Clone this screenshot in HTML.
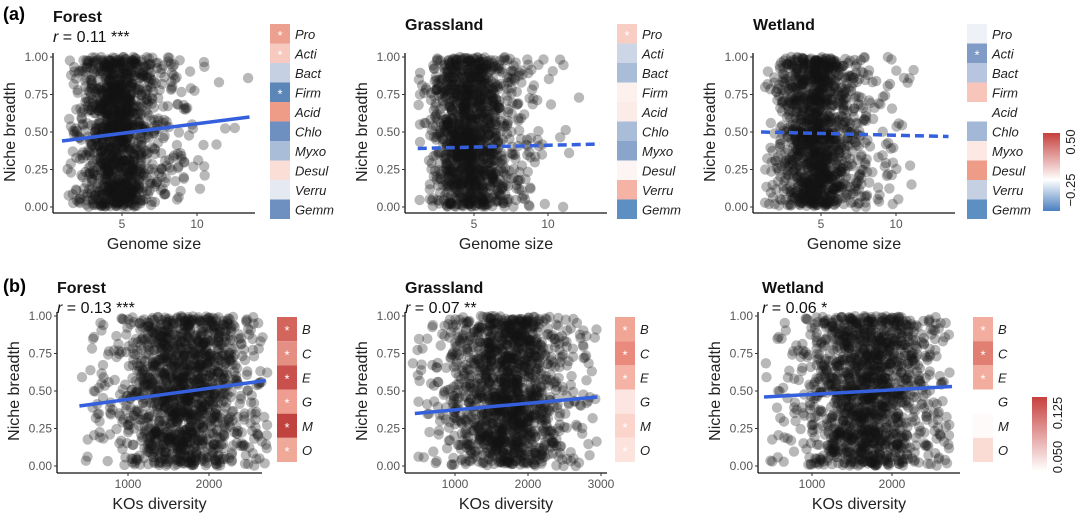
<!DOCTYPE html>
<html><head><meta charset="utf-8"><style>
body{margin:0;background:#fff;width:1080px;height:524px;overflow:hidden}
svg text{font-family:"Liberation Sans",sans-serif}
</style></head><body>
<svg id="fig" width="1080" height="524" xmlns="http://www.w3.org/2000/svg">
<defs>
<linearGradient id="gA" x1="0" y1="1" x2="0" y2="0"><stop offset="0" stop-color="#4a7fbf"/><stop offset="0.4" stop-color="#ffffff"/><stop offset="1" stop-color="#c6403d"/></linearGradient>
<linearGradient id="gB" x1="0" y1="1" x2="0" y2="0"><stop offset="0" stop-color="#ffffff"/><stop offset="1" stop-color="#c6403d"/></linearGradient>
</defs>
<g id="root"></g>
</svg>
<script>
// ---- data ----
const rowsA = ["Pro","Acti","Bact","Firm","Acid","Chlo","Myxo","Desul","Verru","Gemm"];
const rowsB = ["B","C","E","G","M","O"];
const heatForestA = ["#eea090","#f7c9bf","#c5d1e3","#5d86b8","#ee9b88","#6d90c0","#a9bcd8","#fbdfd7","#e5eaf2","#6d90c0"];
const heatGrassA  = ["#f8cdc3","#ccd6e7","#a9bcd8","#fdf1ee","#fbece8","#a9bcd8","#8aa5cc","#fdf5f3","#f4b3a5","#5d8fc3"];
const heatWetA    = ["#eef2f7","#7f9bc6","#b7c6de","#f7c5b9","#ffffff","#a3b8d6","#fde9e4","#ee9b88","#c5d1e3","#5d8fc3"];
const starsForestA = [1,1,0,1,0,0,0,0,0,0];
const starsGrassA  = [1,0,0,0,0,0,0,0,0,0];
const starsWetA    = [0,1,0,0,0,0,0,0,0,0];
const heatForestB = ["#d4655c","#e58f84","#c9504c","#ee9d90","#c0433f","#f0a898"];
const heatGrassB  = ["#f1a595","#e98a7c","#f4b3a5","#fde6e1","#fbd5cc","#fde3dd"];
const heatWetB    = ["#f3ad9f","#e17f73","#f3ad9f","#ffffff","#fefafa","#fbdcd5"];
const starsForestB = [1,1,1,1,1,1];
const starsGrassB  = [1,1,1,0,1,1];
const starsWetB    = [1,1,1,0,0,0];
const yTicks = [0,0.25,0.5,0.75,1];
const yTickLabels = ["0.00","0.25","0.50","0.75","1.00"];
const genomeTicks = [5,10];
const koTicksFG = [1000,2000];
const koTicksG = [1000,2000,3000];
// regression endpoints [x0,y0,x1,y1]
const fitForestA = [1,0.44,13.5,0.60];
const fitGrassA = [1.2,0.39,13.5,0.42];
const fitWetA = [1,0.50,13.5,0.47];
const fitForestB = [400,0.40,2700,0.57];
const fitGrassB = [450,0.35,2950,0.46];
const fitWetB = [400,0.46,2750,0.53];

const NS="http://www.w3.org/2000/svg";
const root=document.getElementById('root');
function el(tag,attrs,parent,text){const e=document.createElementNS(NS,tag);for(const k in attrs)e.setAttribute(k,attrs[k]);if(text!==undefined)e.textContent=text;(parent||root).appendChild(e);return e;}
let seed=12345;function rnd(){seed=(seed*1103515245+12345)%2147483648;return seed/2147483648;}
function gauss(){return Math.sqrt(-2*Math.log(rnd()+1e-9))*Math.cos(2*Math.PI*rnd());}

function panel(o){
  const g=el('g',{});
  
  
  const X=v=>o.ax0px+(v-o.t0)*(o.t1px-o.ax0px)/(o.t1-o.t0);
  const Y=v=>o.y0-(o.y0-o.y1)*v;
  const pg=el('g',{},g);
  
  
  for(let i=0;i<o.n;i++){
    let xv;
    do{ xv = rnd()<o.tail ? o.mu+o.sd*2.3*Math.abs(gauss())*(rnd()<o.skew?1:-1) : o.mu+o.sd*gauss(); }
    while(xv<o.xmin||xv>o.xmax);
    const yv=rnd();
    el('circle',{cx:X(xv).toFixed(1),cy:Y(yv).toFixed(1),r:5.2,fill:'rgba(20,20,20,0.3)'},pg);
  }
  const ya=el('line',{x1:o.ax,y1:Y(1)-4,x2:o.ax,y2:o.xaxY,stroke:'#111','stroke-width':1.3},g);
  
  const xa=el('line',{x1:o.ax,y1:o.xaxY,x2:o.axEnd,y2:o.xaxY,stroke:'#111','stroke-width':1.3},g);
  
  yTicks.forEach((t,i)=>{
    el('line',{x1:o.ax-3,y1:Y(t),x2:o.ax,y2:Y(t),stroke:'#333'},g);
    const tl=el('text',{x:o.ax-5,y:Y(t)+4,'font-size':12,'text-anchor':'end',fill:'#555'},g,yTickLabels[i]);
    
  });
  o.xt.forEach(t=>{
    el('line',{x1:X(t),y1:o.xaxY,x2:X(t),y2:o.xaxY+3,stroke:'#333'},g);
    const tl=el('text',{x:X(t),y:o.xaxY+15,'font-size':12,'text-anchor':'middle',fill:'#555'},g,String(t));
    
  });
  const xl=el('text',{x:(o.ax+o.axEnd)/2,y:o.xaxY+36,'font-size':16,'text-anchor':'middle',fill:'#222'},g,o.xlab);
  
  const yl=el('text',{x:0,y:0,'font-size':16,'text-anchor':'middle',fill:'#222',transform:`translate(${o.ax-38},${(Y(0)+Y(1))/2}) rotate(-90)`},g,'Niche breadth');
  
  const f=o.fit;
  const fl=el('line',{x1:X(f[0]),y1:Y(f[1]),x2:X(f[2]),y2:Y(f[3]),stroke:'#3560dd','stroke-width':3.5},g);
  if(o.dash) fl.setAttribute('stroke-dasharray','9,5');
  
  const tt=el('text',{x:o.tx,y:o.ty,'font-size':16,'font-weight':'bold',fill:'#111'},g,o.title);
  
  if(o.r){
    const rt=el('text',{x:o.tx,y:o.ty+20,'font-size':16,fill:'#111'},g);
    
    el('tspan',{'font-style':'italic'},rt,'r');
    el('tspan',{},rt,' = '+o.r);
  }
  const hg=el('g',{},g);
  
  const rh=(o.hy1-o.hy0)/o.rows.length;
  o.rows.forEach((r,i)=>{
    const c=el('rect',{x:o.hx,y:o.hy0+i*rh,width:20,height:rh,fill:o.cols[i]},hg);
    
    if(o.stars[i]) el('text',{x:o.hx+10,y:o.hy0+i*rh+rh/2+6,'font-size':13,'text-anchor':'middle',fill:'#fff'},hg,'*');
    const lt=el('text',{x:o.hx+25,y:o.hy0+i*rh+rh/2+5,'font-size':13,'font-style':'italic',fill:'#222'},hg,r);
    
  });
}
const A={y0:207,y1:57,xaxY:213,xt:genomeTicks,t0:5,t1:10,xlab:'Genome size',mu:4.4,sd:1.15,tail:0.3,skew:0.9,xmin:1.2,xmax:13.5,n:1300,rows:rowsA,hy0:24,hy1:219};
const B={y0:466,y1:316,xaxY:473,t0:1000,t1:2000,xlab:'KOs diversity',mu:1680,sd:380,tail:0.2,skew:0.6,xmin:420,xmax:2720,n:1400,rows:rowsB,hy0:317,hy1:462};
panel(Object.assign({},A,{name:'panel-a-forest',ax:53,axEnd:255,ax0px:122,t1px:197,fit:fitForestA,title:'Forest',r:'0.11 ***',tx:53,ty:22,hx:270,cols:heatForestA,stars:starsForestA}));
panel(Object.assign({},A,{name:'panel-a-grassland',ax:405,axEnd:607,ax0px:474,t1px:548,fit:fitGrassA,dash:true,title:'Grassland',tx:405,ty:30,hx:617,cols:heatGrassA,stars:starsGrassA}));
panel(Object.assign({},A,{name:'panel-a-wetland',ax:753,axEnd:955,ax0px:821,t1px:896,fit:fitWetA,dash:true,title:'Wetland',tx:753,ty:30,hx:967,cols:heatWetA,stars:starsWetA}));
panel(Object.assign({},B,{name:'panel-b-forest',ax:57,axEnd:262,ax0px:128,t1px:209,xt:koTicksFG,fit:fitForestB,title:'Forest',r:'0.13 ***',tx:57,ty:293,hx:277,cols:heatForestB,stars:starsForestB}));
panel(Object.assign({},B,{name:'panel-b-grassland',ax:405,axEnd:607,ax0px:455,t1px:528,xt:koTicksG,fit:fitGrassB,xmax:2950,title:'Grassland',r:'0.07 **',tx:405,ty:293,hx:615,cols:heatGrassB,stars:starsGrassB}));
panel(Object.assign({},B,{name:'panel-b-wetland',ax:758,axEnd:960,ax0px:812,t1px:892,xt:koTicksFG,fit:fitWetB,title:'Wetland',r:'0.06 *',tx:762,ty:293,hx:973,cols:heatWetB,stars:starsWetB}));
let t=el('text',{x:3,y:20,'font-size':18,'font-weight':'bold'},root,'(a)');

t=el('text',{x:3,y:292,'font-size':18,'font-weight':'bold'},root,'(b)');

let cb=el('rect',{x:1043,y:133,width:17,height:78,fill:'url(#gA)'});

el('text',{x:0,y:0,'font-size':13,'text-anchor':'middle',fill:'#222',transform:'translate(1075,142) rotate(-90)'},root,'0.50');
el('text',{x:0,y:0,'font-size':13,'text-anchor':'middle',fill:'#222',transform:'translate(1075,190) rotate(-90)'},root,'\u22120.25');
cb=el('rect',{x:1032,y:397,width:15,height:74,fill:'url(#gB)'});

el('text',{x:0,y:0,'font-size':13,'text-anchor':'middle',fill:'#222',transform:'translate(1062,413) rotate(-90)'},root,'0.125');
el('text',{x:0,y:0,'font-size':13,'text-anchor':'middle',fill:'#222',transform:'translate(1062,457) rotate(-90)'},root,'0.050');
</script>
</body></html>
